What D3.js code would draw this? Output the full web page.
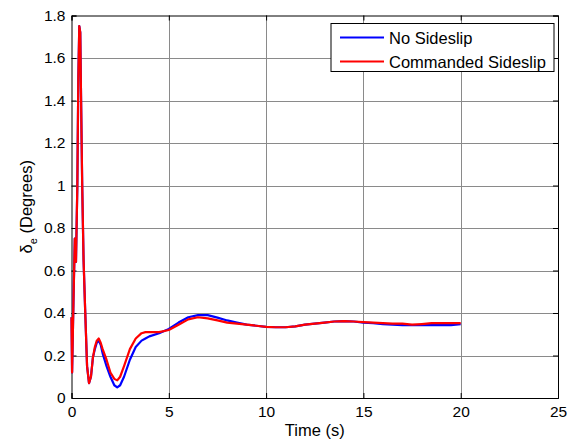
<!DOCTYPE html>
<html>
<head>
<meta charset="utf-8">
<script src="https://cdn.jsdelivr.net/npm/d3@7"></script>
<style>
  body { margin: 0; background: #fff; }
  text { font-family: "Liberation Sans", Arial, sans-serif; fill: #000; }
</style>
</head>
<body>
<svg></svg>
<script>
// values
var time = [0, 0.03, 0.1, 0.17, 0.2, 0.23, 0.3, 0.35, 0.4, 0.45, 0.5, 0.55, 0.62, 0.7, 0.8, 0.9,
  1.0, 1.1, 1.2, 1.3, 1.4, 1.5, 1.6, 1.8, 2.0, 2.2, 2.35, 2.5, 2.7, 3.0, 3.3, 3.6, 3.8, 4.0, 4.5,
  5, 5.5, 6, 6.5, 7, 7.5, 8, 8.5, 9, 9.5, 10, 10.5, 11, 11.5, 12, 12.5, 13, 13.5, 14, 14.5,
  15, 15.5, 16, 16.5, 17, 17.5, 18, 18.5, 19, 19.5, 20];

var noSideslip = [0.38, 0.12, 0.45, 0.75, 0.64, 0.64, 1.0, 1.5, 1.75, 1.72, 1.35, 1.0, 0.65, 0.42, 0.15, 0.07,
  0.1, 0.19, 0.23, 0.26, 0.27, 0.25, 0.21, 0.15, 0.1, 0.06, 0.05, 0.06, 0.1, 0.18, 0.24, 0.27, 0.28, 0.29, 0.305,
  0.325, 0.355, 0.38, 0.39, 0.39, 0.378, 0.365, 0.355, 0.345, 0.34, 0.335, 0.333, 0.333, 0.337, 0.345, 0.35, 0.355, 0.36, 0.362, 0.36,
  0.355, 0.352, 0.348, 0.345, 0.343, 0.343, 0.343, 0.343, 0.343, 0.343, 0.348];

var commandedSideslip = [0.38, 0.12, 0.45, 0.75, 0.64, 0.64, 1.0, 1.5, 1.75, 1.72, 1.35, 1.0, 0.65, 0.42, 0.15, 0.07,
  0.1, 0.19, 0.24, 0.27, 0.28, 0.26, 0.23, 0.18, 0.12, 0.09, 0.083, 0.1, 0.15, 0.23, 0.28, 0.305, 0.31, 0.31, 0.31,
  0.32, 0.345, 0.37, 0.38, 0.375, 0.365, 0.355, 0.35, 0.345, 0.34, 0.335, 0.333, 0.333, 0.337, 0.345, 0.35, 0.355, 0.36, 0.362, 0.36,
  0.357, 0.355, 0.352, 0.35, 0.35, 0.345, 0.348, 0.352, 0.352, 0.352, 0.352];

var xTicks = [0, 5, 10, 15, 20, 25];
var yTicks = [0, 0.2, 0.4, 0.6, 0.8, 1, 1.2, 1.4, 1.6, 1.8];

var series = [
  {name: "No Sideslip", values: noSideslip, color: "#0000ff"},
  {name: "Commanded Sideslip", values: commandedSideslip, color: "#ff0000"}
];

var width = 574, height = 442;
var margin = {top: 15.5, right: 16, bottom: 44, left: 71.5};
var tickFs = "15.5px", labelFs = "16.5px";

var svg = d3.select("svg").attr("width", width).attr("height", height);

var x = d3.scaleLinear().domain([0, 25]).range([margin.left, width - margin.right]);
var y = d3.scaleLinear().domain([0, 1.8]).range([height - margin.bottom, margin.top]);

// grid
svg.append("g").selectAll("line.gx")
  .data(xTicks.slice(1, -1))
  .enter().append("line")
  .attr("x1", function(d) { return Math.round(x(d)) + 0.5; })
  .attr("x2", function(d) { return Math.round(x(d)) + 0.5; })
  .attr("y1", y(0)).attr("y2", y(1.8))
  .attr("stroke", "#8a8a8a").attr("stroke-width", 1);

svg.append("g").selectAll("line.gy")
  .data(yTicks.slice(1, -1))
  .enter().append("line")
  .attr("y1", function(d) { return Math.round(y(d)) + 0.5; })
  .attr("y2", function(d) { return Math.round(y(d)) + 0.5; })
  .attr("x1", x(0)).attr("x2", x(25))
  .attr("stroke", "#8a8a8a").attr("stroke-width", 1);

// axes with inward ticks
var xAxis = d3.axisBottom(x).tickValues(xTicks).tickSize(-5).tickPadding(8).tickFormat(d3.format("d"));
var yAxis = d3.axisLeft(y).tickValues(yTicks).tickSize(-5).tickPadding(6).tickFormat(function(d) { return d3.format("")(d); });

svg.append("g").attr("transform", "translate(0," + y(0) + ")").call(xAxis);
svg.append("g").attr("transform", "translate(" + x(0) + ",0)").call(yAxis);
svg.append("g").attr("transform", "translate(0," + y(1.8) + ")")
  .call(d3.axisTop(x).tickValues(xTicks).tickSize(-5).tickFormat(""));
svg.append("g").attr("transform", "translate(" + x(25) + ",0)")
  .call(d3.axisRight(y).tickValues(yTicks).tickSize(-5).tickFormat(""));

svg.selectAll(".domain").attr("stroke", "#000");
svg.selectAll(".tick line").attr("stroke", "#000");
svg.selectAll(".tick text").style("font-size", tickFs).style("font-family", "Liberation Sans, Arial, sans-serif");

// lines
var line = d3.line()
  .x(function(d, i) { return x(time[i]); })
  .y(function(d) { return y(d); });

svg.selectAll("path.series")
  .data(series)
  .enter().append("path")
  .attr("class", "series")
  .attr("d", function(d) { return line(d.values); })
  .attr("fill", "none")
  .attr("stroke", function(d) { return d.color; })
  .attr("stroke-width", 2.2)
  .attr("stroke-linejoin", "round");

// axis labels
svg.append("text")
  .attr("x", (x(0) + x(25)) / 2)
  .attr("y", 436)
  .attr("text-anchor", "middle")
  .style("font-size", labelFs)
  .text("Time (s)");

var yl = svg.append("text")
  .attr("transform", "translate(32," + ((y(0) + y(1.8)) / 2) + ") rotate(-90)")
  .attr("text-anchor", "middle")
  .style("font-size", labelFs);
yl.append("tspan").text("\u03b4");
yl.append("tspan").attr("dy", 5).style("font-size", "11px").text("e");
yl.append("tspan").attr("dy", -5).text(" (Degrees)");

// legend
var lg = svg.append("g").attr("transform", "translate(331,23.5)");
lg.append("rect").attr("width", 223).attr("height", 48)
  .attr("fill", "#fff").attr("stroke", "#000").attr("stroke-width", 1);
var item = lg.selectAll("g.item").data(series).enter().append("g")
  .attr("transform", function(d, i) { return "translate(0," + (14 + i * 24) + ")"; });
item.append("line").attr("x1", 9).attr("x2", 53).attr("y1", 0).attr("y2", 0)
  .attr("stroke", function(d) { return d.color; }).attr("stroke-width", 2.2);
item.append("text").attr("x", 58).attr("y", 6)
  .style("font-size", labelFs)
  .text(function(d) { return d.name; });
</script>
</body>
</html>
